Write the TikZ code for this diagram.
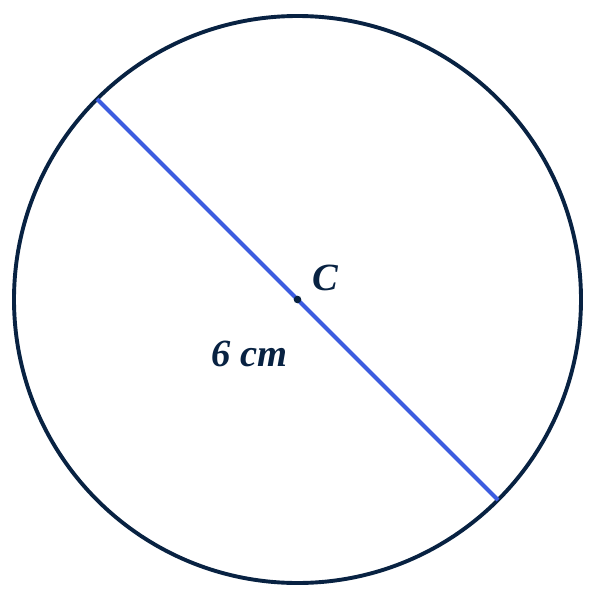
\documentclass[tikz,border=0pt]{standalone}
\usepackage{fontspec}
\setmainfont{Liberation Serif}
\definecolor{navy}{RGB}{8,34,66}
\definecolor{diamblue}{RGB}{60,92,224}
\begin{document}
\begin{tikzpicture}[x=1pt,y=-1pt,
  rim/.style={draw=navy,line width=3.9pt},
  diam/.style={draw=diamblue,line width=3.9pt},
  lbl/.style={text=navy,font=\fontsize{38.5}{44}\selectfont\bfseries\itshape,inner sep=0pt,anchor=base}]
\useasboundingbox (0,0) rectangle (594,600);
\coordinate (O) at (297.5,299.5);
\draw[rim] (O) circle[radius=283.5];
\coordinate (A) at (97,99);
\coordinate (B) at (498,500);
\draw[diam] (A) -- (B);
\fill[navy] (O) circle[radius=3.8];
\node[lbl] (c) at (325,290) {C};
\node[lbl] (d) at (249.5,366) {6 cm};
\end{tikzpicture}
\end{document}
